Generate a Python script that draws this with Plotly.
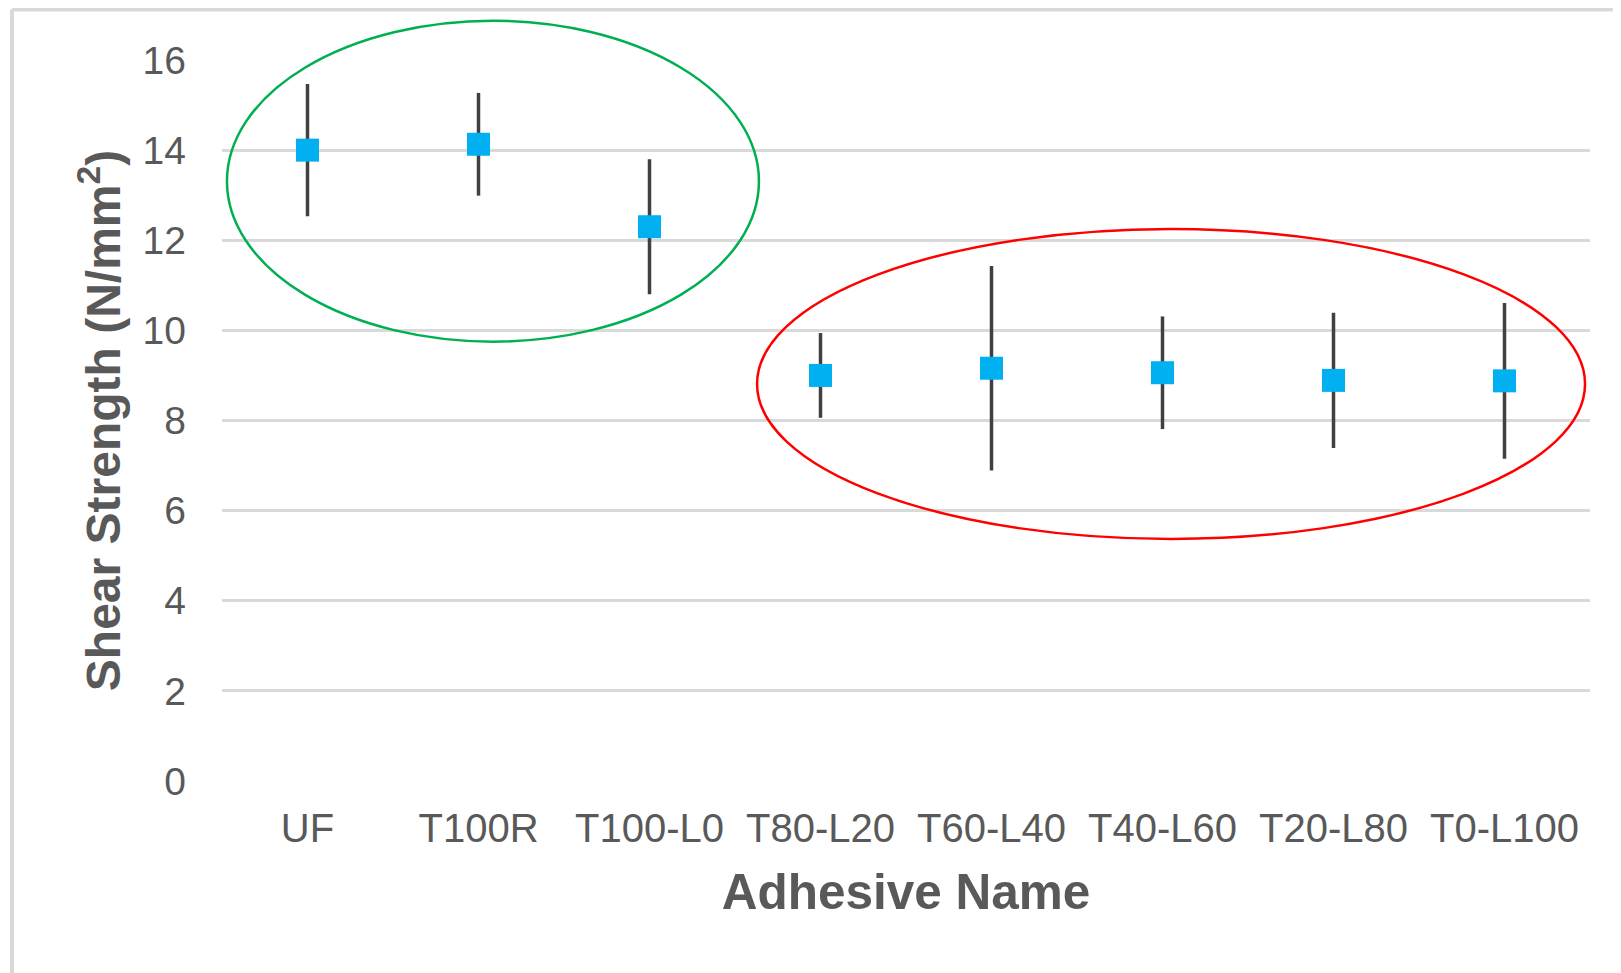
import plotly.graph_objects as go

categories = ["UF", "T100R", "T100-L0", "T80-L20", "T60-L40", "T40-L60", "T20-L80", "T0-L100"]
shear_strength = [14.0, 14.13, 12.3, 9.0, 9.16, 9.06, 8.89, 8.88]
std_dev = [1.47, 1.14, 1.5, 0.94, 2.27, 1.25, 1.5, 1.73]
y_ticks = [0, 2, 4, 6, 8, 10, 12, 14, 16]

TEXT = "#595959"
FONT = "Liberation Sans, Arial, sans-serif"
Y_MAX = 16
N_CAT = len(categories)


def xdom(i):
    """category-index position -> x-domain fraction"""
    return (i + 0.5) / N_CAT


def ydom(v):
    """value -> y-domain fraction"""
    return v / Y_MAX


fig = go.Figure()
fig.add_trace(go.Scatter(
    x=categories, y=shear_strength, mode="markers",
    marker=dict(symbol="square", size=23, color="#00B0F0"),
    error_y=dict(type="data", array=std_dev, visible=True, color="#404040", thickness=3.5, width=0),
    showlegend=False,
))

# group ellipses (domain refs so they may extend past the top of the plot)
fig.add_shape(type="circle", xref="x domain", yref="y domain",
              x0=xdom(-0.471), x1=xdom(2.64), y0=ydom(9.75), y1=ydom(16.87),
              line=dict(color="#00B050", width=2.5))
fig.add_shape(type="circle", xref="x domain", yref="y domain",
              x0=xdom(2.629), x1=xdom(7.471), y0=ydom(5.37), y1=ydom(12.25),
              line=dict(color="#FF0000", width=2.5))

# outer frame (left and top edges)
fig.add_shape(type="line", xref="paper", yref="paper", x0=-0.1535, x1=-0.1535, y0=-0.3, y1=1.07,
              line=dict(color="#D9D9D9", width=4))
fig.add_shape(type="line", xref="paper", yref="paper", x0=-0.1535, x1=1.05, y0=1.07, y1=1.07,
              line=dict(color="#D9D9D9", width=4))

fig.update_layout(
    width=1613, height=965,
    margin=dict(l=214, r=31, t=52, b=192),
    paper_bgcolor="white", plot_bgcolor="white",
    font=dict(family=FONT, color=TEXT),
)
fig.update_xaxes(
    type="category", range=[-0.5, N_CAT - 0.5], showgrid=False, showline=False, zeroline=False,
    tickfont=dict(size=40, color=TEXT), ticklabelstandoff=20,
    title=dict(text="<b>Adhesive Name</b>", font=dict(size=49.5, color=TEXT), standoff=25),
)
fig.update_yaxes(
    range=[0, Y_MAX], tickvals=y_ticks, showgrid=True, gridcolor="#D9D9D9", gridwidth=3,
    zeroline=False, showline=False,
    tickfont=dict(size=39, color=TEXT), ticklabelstandoff=35,
    title=dict(text="<b>Shear Strength (N/mm<sup>2</sup>)</b>", font=dict(size=48, color=TEXT), standoff=6),
)

fig.write_html("out.html")
